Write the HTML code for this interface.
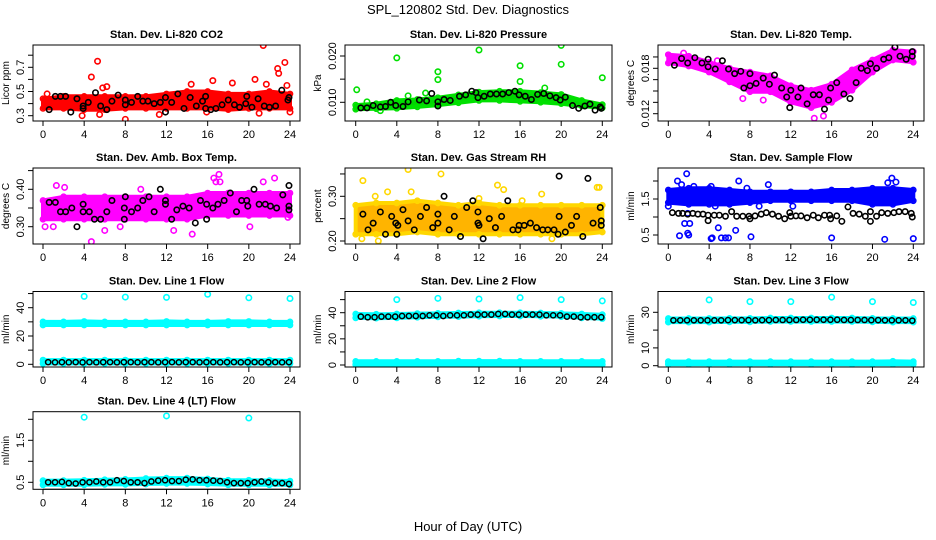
<!DOCTYPE html>
<html><head><meta charset="utf-8"><title>SPL_120802 Std. Dev. Diagnostics</title>
<style>
html,body{margin:0;padding:0;background:#fff;}
svg{display:block;font-family:"Liberation Sans",Arial,sans-serif;}
</style></head>
<body>
<svg id="chart" width="936" height="540" viewBox="0 0 936 540">
<text x="468" y="14" text-anchor="middle" font-size="13">SPL_120802  Std. Dev. Diagnostics</text>
<text x="468" y="531" text-anchor="middle" font-size="13">Hour of Day (UTC)</text>
</svg>
<script>
// ---------- data ----------
const xTicks = [0,4,8,12,16,20,24];
const bandHours = [0,2,4,6,8,10,12,14,16,18,20,22,24];

const co2Lo = [.36,.36,.35,.35,.36,.36,.36,.36,.36,.35,.36,.36,.36];
const co2Hi = [.44,.46,.46,.46,.46,.46,.48,.50,.50,.48,.48,.50,.48];
const co2Out = [[5.3,.75],[4.7,.62],[5.5,.31],[5.8,.53],[6.2,.54],[3.8,.30],[8,.27],[11.3,.31],[14.4,.56],[16.5,.59],[18.4,.57],[20.6,.60],[21.4,.88],[21.7,.56],[22.8,.69],[22.9,.65],[23.5,.74],[23.7,.55],[24,.33],[21,.32],[0.4,.48],[15.9,.33]];
const co2Black = [[0.6,.35],[1.2,.46],[1.7,.46],[2.2,.46],[2.7,.33],[3.3,.44],[3.9,.36],[3.9,.38],[4.4,.41],[5.1,.49],[5.6,.38],[6.2,.35],[6.7,.42],[7.3,.47],[8,.43],[8,.39],[8.6,.41],[9.2,.46],[9.7,.42],[10.2,.42],[10.8,.40],[11.4,.41],[11.9,.45],[11.9,.33],[12.5,.41],[13.1,.48],[13.7,.36],[14.3,.45],[14.9,.38],[15.5,.42],[15.8,.46],[15.8,.36],[16.3,.35],[16.8,.36],[17.4,.39],[18,.43],[18.6,.39],[19.1,.37],[19.7,.40],[19.8,.46],[20.3,.37],[20.9,.44],[21.5,.38],[22,.37],[22.6,.38],[23.2,.51],[23.8,.43],[23.9,.45]];

const presLo = [.0085,.0086,.0087,.0090,.0094,.0099,.0104,.0104,.0102,.0100,.0097,.0092,.0088];
const presHi = [.0094,.0097,.0104,.0106,.0110,.0116,.0122,.0124,.0124,.0121,.0117,.0104,.0095];
const presOut = [[0.1,.0127],[4,.0196],[5.1,.0114],[6.8,.0120],[8,.0166],[8,.0149],[12,.0213],[16,.0179],[16,.0145],[20,.0223],[20,.0182],[24,.0153],[2.4,.0082],[1.1,.0101],[18.4,.0131]];
const presBlack = [[0.5,.0088],[1.1,.0088],[1.7,.0093],[2.4,.0090],[2.9,.0091],[3.4,.0100],[3.9,.0093],[4.6,.0091],[5.1,.0101],[6.2,.0105],[6.9,.0103],[7.4,.0119],[8,.0101],[8,.0092],[8.6,.0106],[9.2,.0104],[10.1,.0113],[10.7,.0116],[11.3,.0124],[11.7,.0121],[11.9,.0110],[12.5,.0113],[13.1,.0118],[13.7,.0118],[14.3,.0118],[14.9,.0121],[15.5,.0124],[15.9,.0116],[16.5,.0113],[17.1,.0106],[17.7,.0117],[18.3,.0119],[18.9,.0114],[19.5,.0110],[19.9,.0105],[20.4,.0111],[21.1,.0093],[21.7,.0087],[22.3,.0092],[22.8,.0096],[23.3,.0083],[23.8,.0090],[23.9,.0087]];

const tempLo = [.0187,.0183,.0175,.0162,.0149,.0149,.0135,.0128,.0135,.0151,.0175,.0191,.0188];
const tempHi = [.0198,.0196,.0188,.0180,.0175,.0170,.0157,.0151,.0159,.0178,.0191,.0204,.0202];
const tempOut = [[14.3,.0114],[15.2,.0117],[1.5,.0200],[4.8,.0190],[10.3,.0160],[7.3,.0140],[9.3,.0138]];
const tempBlack = [[0.6,.0184],[1.3,.0193],[1.9,.0187],[2.6,.0194],[3.3,.0187],[3.9,.0182],[3.9,.0192],[4.6,.0179],[5.3,.0190],[5.9,.0179],[6.5,.0173],[7.1,.0176],[7.4,.0154],[8,.0173],[8,.0157],[8.6,.0160],[9.3,.0167],[9.9,.0159],[10.4,.0171],[11.1,.0154],[11.6,.0142],[11.9,.0128],[12,.0151],[12.7,.0142],[13,.0154],[13.6,.0133],[14.2,.0145],[14.8,.0145],[15.3,.0126],[15.7,.0138],[15.9,.0154],[16.5,.0161],[17.2,.0146],[17.8,.0140],[18.4,.0161],[18.9,.0180],[19.5,.0177],[19.8,.0186],[20.4,.0180],[21.1,.0192],[21.6,.0194],[22.2,.0208],[22.7,.0196],[23.3,.0192],[23.9,.0202],[23.9,.0196]];

const ambLo = [.32,.32,.32,.32,.32,.32,.32,.32,.33,.33,.33,.33,.33];
const ambHi = [.37,.38,.38,.38,.38,.38,.38,.38,.39,.39,.39,.39,.39];
const ambOut = [[0.2,.30],[1,.30],[1.3,.41],[4.7,.26],[6,.29],[16.6,.43],[16.8,.42],[17.1,.44],[17.2,.42],[22.5,.43],[20.1,.30],[7.5,.30],[12.7,.29],[14.5,.28],[2.1,.405],[9.5,.40],[21.4,.42],[23.8,.325]];
const ambBlack = [[0.6,.365],[1.2,.365],[1.7,.34],[2.2,.34],[2.8,.35],[3.3,.30],[3.9,.36],[3.9,.34],[4.5,.34],[5,.32],[5.6,.32],[6.2,.34],[6.7,.37],[7.9,.32],[7.9,.35],[8,.38],[8.6,.34],[9.2,.35],[9.7,.37],[10.3,.38],[10.8,.34],[11.4,.40],[11.9,.37],[11.9,.36],[12.5,.32],[13,.345],[13.6,.355],[14.2,.35],[14.8,.31],[15.3,.37],[15.9,.36],[15.9,.32],[16.5,.35],[17,.36],[17.6,.37],[18.2,.39],[18.8,.34],[19.3,.37],[19.8,.37],[19.9,.355],[20.5,.40],[21,.36],[21.6,.36],[22.1,.355],[22.7,.35],[23.3,.385],[23.9,.41],[23.9,.355],[23.9,.345]];

const rhLo = [.215,.215,.215,.22,.215,.215,.215,.215,.215,.215,.215,.215,.22];
const rhHi = [.28,.285,.285,.29,.285,.28,.285,.28,.28,.28,.28,.28,.28];
const rhOut = [[0.7,.335],[1.9,.30],[3.1,.31],[5.1,.36],[5.4,.31],[8.3,.35],[13.8,.325],[14.4,.315],[18.1,.305],[23.5,.32],[23.7,.32],[2.2,.20],[0.6,.205],[19.1,.205],[16.2,.29],[12,.295]];
const rhBlack = [[0.7,.26],[1.2,.225],[1.7,.24],[2.4,.265],[2.9,.215],[3.5,.255],[3.9,.24],[4,.215],[4.1,.235],[4.6,.27],[5.1,.245],[5.7,.225],[6.3,.255],[6.9,.275],[7.5,.23],[8,.24],[8,.26],[8.6,.30],[9.1,.225],[9.6,.255],[10.2,.21],[10.8,.275],[11.4,.29],[11.9,.265],[11.9,.24],[12,.235],[12.4,.205],[13,.25],[13.6,.23],[14.2,.255],[14.8,.29],[15.3,.225],[15.9,.235],[15.8,.225],[16.4,.235],[17,.24],[17.6,.23],[18.2,.225],[18.7,.225],[19.3,.225],[19.8,.255],[19.8,.345],[19.7,.215],[20.4,.22],[21,.235],[21.5,.255],[22.1,.21],[22.6,.34],[23.1,.24],[23.8,.275],[23.9,.235],[23.9,.245]];

const flowLo = [1.4,1.35,1.35,1.35,1.4,1.45,1.45,1.45,1.45,1.45,1.35,1.35,1.45];
const flowHi = [1.75,1.8,1.8,1.75,1.7,1.7,1.7,1.7,1.75,1.75,1.8,1.8,1.75];
const flowOut = [[0,1.3],[0.9,2.0],[1.3,1.9],[1.8,2.2],[1.9,0.55],[2,0.5],[2.5,1.85],[1.6,0.82],[2.1,0.82],[1.1,0.48],[1.9,1.1],[4.2,1.85],[4.2,0.4],[4.3,0.42],[4.6,1.3],[4.9,0.7],[5.2,0.42],[5.6,0.42],[5.9,0.42],[6.6,0.63],[6.9,2.0],[7.7,1.8],[8.1,0.45],[8.9,1.3],[9.8,1.9],[12.2,1.3],[16,0.42],[21.5,1.95],[21.9,2.08],[21.2,0.38],[22.3,1.97],[24,0.4]];
const flowBlack = [[0.4,1.12],[1,1.1],[1.4,1.1],[1.9,1.08],[2.4,1.1],[2.9,1.08],[3.4,1.08],[3.9,1.05],[3.9,.9],[4.5,1.05],[5,1.05],[5.6,1.02],[6.2,1.15],[6.7,1.02],[7.3,1.02],[7.9,1.02],[8,0.95],[8.5,1.03],[9.1,1.08],[9.6,1.12],[10.2,1.08],[10.8,1.02],[11.4,0.95],[11.9,1.12],[12,1.02],[12.5,1.03],[13,1.03],[13.6,0.98],[14.2,1.05],[14.7,0.98],[15.3,1.05],[15.8,1.05],[15.9,0.95],[16.5,1.03],[17,0.88],[17.6,1.28],[18.1,1.1],[18.7,1.08],[19.3,1.02],[19.8,1.15],[19.8,0.88],[20.4,1.02],[20.9,1.12],[21.5,1.1],[22.1,1.12],[22.6,1.15],[23.2,1.15],[23.8,1.1],[23.9,1.0]];

const line1Lo = [27.8,27.8,27.8,27.8,27.8,27.8,27.8,27.8,27.8,27.8,27.8,27.8,27.8];
const line1Hi = [30,30,30.3,30,30,30,30.3,30,30,30.3,30.3,30,30];
const line1LowLo = [0.6,0.6,0.6,0.6,0.6,0.6,0.6,0.6,0.6,0.6,0.6,0.6,0.6];
const line1LowHi = [3,3,3,3,3,3,3,3,3,3,3,3,3];
const line1Out = [[4,48],[8,47.5],[12,47.3],[16,49.5],[20,47],[24,46.5]];
const line1Black = [1.5,1.4,1.5,1.4,1.5,1.4,1.5,1.4,1.5,1.5,1.4,1.5,1.5,1.4,1.5,1.5,1.4,1.5,1.5,1.4,1.5,1.5,1.4,1.5,1.5,1.4,1.5,1.5,1.4,1.5,1.5,1.4,1.5,1.5,1.4,1.5];

const line2Lo = [36,35.8,36,36.5,36.8,37,37.3,37.5,37.5,37.3,37,36,35.5];
const line2Hi = [39,38.8,39,39.3,39.5,39.8,40,40,40,39.8,39.5,39,38.5];
const line2LowLo = [0.3,0.3,0.3,0.3,0.3,0.3,0.3,0.3,0.3,0.3,0.3,0.3,0.3];
const line2LowHi = [2.8,2.8,2.8,2.8,2.8,3,3,3,2.8,2.8,2.8,2.8,2.8];
const line2Out = [[4,50],[8,51],[12,50.5],[16,51.5],[20,50],[24,49]];
const line2Black = [37,36.5,36.5,37,37,37,37.5,37.5,37.5,37.5,38,38,37.5,38,38,38,38.5,38.5,38.5,38.5,39,39,38.5,38.5,38.5,38.5,38.5,38,38,38,37,37,36.5,36.5,36.5,36.5];

const line3Lo = [24.5,24.5,24.5,24.6,24.6,24.8,24.8,24.8,24.8,24.8,24.6,24.5,24.5];
const line3Hi = [26.5,26.5,26.5,26.6,26.6,26.8,26.8,26.8,26.8,26.8,26.6,26.5,26.5];
const line3LowLo = [0.8,0.8,0.8,0.8,0.8,0.8,0.8,0.8,0.8,0.8,0.8,0.8,0.8];
const line3LowHi = [2.3,2.3,2.3,2.3,2.3,2.3,2.3,2.3,2.3,2.3,2.3,2.5,2.3];
const line3Out = [[4,37],[8,36],[12,36],[16,38.5],[20,36],[24,35.5]];
const line3Black = [25.5,25.5,25.5,25.5,25.5,25.5,25.5,25.5,25.6,25.6,25.6,25.6,25.5,25.6,25.6,25.7,25.7,25.7,25.7,25.8,25.8,25.8,25.8,25.8,25.8,25.7,25.7,25.7,25.7,25.6,25.6,25.5,25.5,25.5,25.5,25.3];

const line4Lo = [.44,.44,.44,.45,.45,.46,.47,.47,.46,.44,.44,.44,.44];
const line4Hi = [.54,.54,.55,.56,.57,.59,.60,.60,.58,.55,.55,.54,.53];
const line4Out = [[4,2.05],[12,2.08],[20,2.03]];
const line4Black = [.5,.5,.51,.48,.47,.5,.5,.52,.5,.5,.55,.53,.5,.5,.48,.52,.54,.55,.53,.53,.56,.57,.55,.55,.54,.53,.5,.48,.48,.48,.5,.52,.5,.48,.48,.46];

// ---------- layout ----------
const NS = 'http://www.w3.org/2000/svg';
const svg = document.getElementById('chart');
const COLS = [{l:33,r:300,h0:43,h24:290},{l:345,r:612,h0:355.7,h24:602.3},{l:658,r:924,h0:668.3,h24:913.3}];
const ROWS = [{t:45,b:121},{t:168,b:244},{t:291.5,b:367},{t:411.7,b:489.3}];

function mk(tag, attrs, parent){
  const e = document.createElementNS(NS, tag);
  for (const k in attrs) e.setAttribute(k, attrs[k]);
  (parent||svg).appendChild(e);
  return e;
}

const panels = [
 {key:'co2',title:'Stan. Dev. Li-820 CO2',ylab:'Licor ppm',c:0,r:0,v0:.3,p0:115.7,v1:.7,p1:67.3,ticks:[.3,.4,.5,.6,.7,.8],labels:['0.3','','0.5','','0.7',''],color:'#ff0000',fill:'#ff0000',bands:[[co2Lo,co2Hi]],out:co2Out,black:co2Black},
 {key:'pressure',title:'Stan. Dev. Li-820 Pressure',ylab:'kPa',c:1,r:0,v0:.010,p0:102.3,v1:.020,p1:56,ticks:[.010,.015,.020],labels:['0.010','','0.020'],color:'#00e000',fill:'#00d800',bands:[[presLo,presHi]],out:presOut,black:presBlack},
 {key:'temp',title:'Stan. Dev. Li-820 Temp.',ylab:'degrees C',c:2,r:0,v0:.012,p0:113.7,v1:.018,p1:68.3,ticks:[.012,.0135,.015,.0165,.018,.0195],labels:['0.012','','','','0.018',''],color:'#ff00ff',fill:'#ff00ff',bands:[[tempLo,tempHi]],out:tempOut,black:tempBlack},
 {key:'amb-temp',title:'Stan. Dev. Amb. Box Temp.',ylab:'degrees C',c:0,r:1,v0:.30,p0:226.7,v1:.40,p1:189.3,ticks:[.30,.35,.40,.45],labels:['0.30','','0.40',''],color:'#ff00ff',fill:'#ff00ff',bands:[[ambLo,ambHi]],out:ambOut,black:ambBlack},
 {key:'rh',title:'Stan. Dev. Gas Stream RH',ylab:'percent',c:1,r:1,v0:.20,p0:241,v1:.30,p1:196.3,ticks:[.20,.25,.30,.35],labels:['0.20','','0.30',''],color:'#ffd700',fill:'#ffb400',bands:[[rhLo,rhHi]],out:rhOut,black:rhBlack},
 {key:'sample-flow',title:'Stan. Dev. Sample Flow',ylab:'ml/min',c:2,r:1,v0:.5,p0:235,v1:1.5,p1:199,ticks:[.5,1,1.5,2],labels:['0.5','','1.5',''],color:'#0000ff',fill:'#0000ff',bands:[[flowLo,flowHi]],out:flowOut,black:flowBlack},
 {key:'line1',title:'Stan. Dev. Line 1 Flow',ylab:'ml/min',c:0,r:2,v0:0,p0:364.3,v1:40,p1:307.7,ticks:[0,10,20,30,40,50],labels:['0','','20','','40',''],color:'#00ffff',fill:'#00ffff',bands:[[line1Lo,line1Hi],[line1LowLo,line1LowHi]],out:line1Out,blackSeq:line1Black},
 {key:'line2',title:'Stan. Dev. Line 2 Flow',ylab:'ml/min',c:1,r:2,v0:0,p0:365,v1:40,p1:312.7,ticks:[0,10,20,30,40,50],labels:['0','','20','','40',''],color:'#00ffff',fill:'#00ffff',bands:[[line2Lo,line2Hi],[line2LowLo,line2LowHi]],out:line2Out,blackSeq:line2Black},
 {key:'line3',title:'Stan. Dev. Line 3 Flow',ylab:'ml/min',c:2,r:2,v0:0,p0:365.7,v1:30,p1:312.3,ticks:[0,10,20,30],labels:['0','10','','30'],color:'#00ffff',fill:'#00ffff',bands:[[line3Lo,line3Hi],[line3LowLo,line3LowHi]],out:line3Out,blackSeq:line3Black},
 {key:'line4',title:'Stan. Dev. Line 4 (LT) Flow',ylab:'ml/min',c:0,r:3,v0:.5,p0:482.3,v1:1.5,p1:440.3,ticks:[.5,1,1.5,2],labels:['0.5','','1.5',''],color:'#00ffff',fill:'#00ffff',bands:[[line4Lo,line4Hi]],out:line4Out,blackSeq:line4Black}
];

panels.forEach(p => {
  const col = COLS[p.c], row = ROWS[p.r];
  const xs = h => col.h0 + h*(col.h24-col.h0)/24;
  const ys = v => p.p0 + (v-p.v0)*(p.p1-p.p0)/(p.v1-p.v0);
  const g = mk('g', {});
  
  
  const clipId = 'clip-' + p.key;
  const cp = mk('clipPath', {id:clipId}, g);
  mk('rect', {x:col.l, y:row.t, width:col.r-col.l, height:row.b-row.t}, cp);
  const plot = mk('g', {'clip-path':'url(#'+clipId+')'}, g);
  
  

  p.bands.forEach(([lo, hi], bi) => {
    let d = '';
    bandHours.forEach((h,i) => { d += (i?'L':'M') + xs(h).toFixed(1) + ',' + ys(hi[i]).toFixed(1); });
    for (let i = bandHours.length-1; i >= 0; i--) d += 'L' + xs(bandHours[i]).toFixed(1) + ',' + ys(lo[i]).toFixed(1);
    d += 'Z';
    const band = mk('path', {d:d, fill:p.fill, stroke:p.color, 'stroke-width':4, 'stroke-linejoin':'round'}, plot);
    
    
    bandHours.forEach((h,i) => {
      [lo[i], hi[i]].forEach(v => {
        const c = mk('circle', {cx:xs(h), cy:ys(v), r:2.6, fill:'none', stroke:p.color, 'stroke-width':1.5}, plot);
        
        
      });
    });
  });
  p.out.forEach(([h,v]) => {
    const c = mk('circle', {cx:xs(h), cy:ys(v), r:2.7, fill:'none', stroke:p.color, 'stroke-width':1.6}, plot);
    
    
  });
  if (p.black) {
    p.black.forEach(([h,v]) => {
      const c = mk('circle', {cx:xs(h), cy:ys(v), r:2.7, fill:'none', stroke:'#000', 'stroke-width':1.6}, plot);
      
      
    });
  }
  if (p.blackSeq) {
    const n = p.blackSeq.length;
    p.blackSeq.forEach((v,i) => {
      const h = 0.5 + i*(23.4/(n-1));
      const c = mk('circle', {cx:xs(h), cy:ys(v), r:2.6, fill:'none', stroke:'#000', 'stroke-width':1.5}, plot);
      
      
    });
  }

  const fr = mk('rect', {x:col.l, y:row.t, width:col.r-col.l, height:row.b-row.t, fill:'none', stroke:'#000', 'stroke-width':1}, g);
  
  

  const t = mk('text', {x:(col.l+col.r)/2, y:row.t-7, 'text-anchor':'middle', 'font-size':11, 'font-weight':'bold'}, g);
  t.textContent = p.title;
  
  

  const xa = mk('g', {}, g);
  
  
  mk('line', {x1:xs(0), x2:xs(24), y1:row.b, y2:row.b, stroke:'#000'}, xa);
  xTicks.forEach(h => {
    mk('line', {x1:xs(h), x2:xs(h), y1:row.b, y2:row.b+5, stroke:'#000'}, xa);
    const lt = mk('text', {x:xs(h), y:row.b+17, 'text-anchor':'middle', 'font-size':11}, xa);
    lt.textContent = String(h);
    
    
  });

  const ya = mk('g', {}, g);
  
  
  mk('line', {x1:col.l, x2:col.l, y1:ys(p.ticks[0]), y2:ys(p.ticks[p.ticks.length-1]), stroke:'#000'}, ya);
  p.ticks.forEach((v,i) => {
    const y = ys(v);
    mk('line', {x1:col.l-5, x2:col.l, y1:y, y2:y, stroke:'#000'}, ya);
    if (p.labels[i]) {
      const lt = mk('text', {x:col.l-9, y:y, 'text-anchor':'middle', 'font-size':11, transform:'rotate(-90 '+(col.l-9)+' '+y+')'}, ya);
      lt.textContent = p.labels[i];
      
      
    }
  });
  const my = (row.t+row.b)/2;
  const yl = mk('text', {x:col.l-24, y:my, 'text-anchor':'middle', 'font-size':10, transform:'rotate(-90 '+(col.l-24)+' '+my+')'}, g);
  yl.textContent = p.ylab;
  
  
});
</script>
</body></html>
